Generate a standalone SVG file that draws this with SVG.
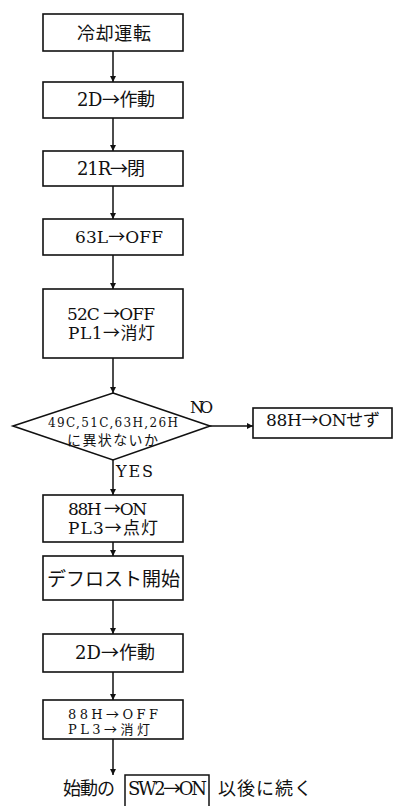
<svg xmlns="http://www.w3.org/2000/svg" width="406" height="806" viewBox="0 0 406 806">
<defs>
<style>
.b{fill:#fff;stroke:#111;stroke-width:1.6}
.t{font-family:"DejaVu Serif","Noto Sans CJK JP",serif;fill:#111}
.a{font-family:"Noto Sans CJK JP",sans-serif}
.c{stroke:#111;stroke-width:1.5;fill:none;marker-end:url(#ah)}
</style>
<marker id="ah" viewBox="0 0 10 10" refX="10" refY="5" markerWidth="6" markerHeight="6" orient="auto" markerUnits="userSpaceOnUse">
<path d="M0,0 L10,5 L0,10 z" fill="#111"/>
</marker>
</defs>
<rect width="406" height="806" fill="#fff"/>
<g id="connectors">
<line class="c" x1="113" y1="51" x2="113" y2="82"/>
<line class="c" x1="113" y1="118" x2="113" y2="151"/>
<line class="c" x1="113" y1="186" x2="113" y2="219"/>
<line class="c" x1="113" y1="255" x2="113" y2="289"/>
<line class="c" x1="113" y1="358" x2="113" y2="393"/>
<line class="c" x1="113" y1="460" x2="113" y2="495"/>
<line class="c" x1="113" y1="542" x2="113" y2="556"/>
<line class="c" x1="113" y1="600" x2="113" y2="634"/>
<line class="c" x1="113" y1="672" x2="113" y2="700"/>
<line class="c" x1="113" y1="739" x2="113" y2="775"/>
<line class="c" x1="210" y1="426" x2="253" y2="426"/>
<text class="t" x="190" y="413" font-size="16" textLength="23">NO</text>
<text class="t" x="116" y="477" font-size="16" textLength="37">YES</text>
</g>
<g id="n1"><rect class="b" x="43" y="14" width="140" height="37"/><text class="t" x="77" y="40" font-size="18" textLength="74">冷却運転</text></g>
<g id="n2"><rect class="b" x="43" y="82" width="140" height="36"/><text class="t" x="77" y="106" font-size="18" textLength="78">2D<tspan class="a">→</tspan>作動</text></g>
<g id="n3"><rect class="b" x="43" y="151" width="140" height="35"/><text class="t" x="77" y="175" font-size="18" textLength="68">21R<tspan class="a">→</tspan>閉</text></g>
<g id="n4"><rect class="b" x="43" y="219" width="140" height="36"/><text class="t" x="75" y="243" font-size="17" textLength="88">63L<tspan class="a">→</tspan>OFF</text></g>
<g id="n5"><rect class="b" x="43" y="289" width="140" height="69"/><text class="t" font-size="17"><tspan x="67" y="320" textLength="88">52C <tspan class="a">→</tspan>OFF</tspan><tspan x="68" y="339" textLength="87">PL1<tspan class="a">→</tspan>消灯</tspan></text></g>
<g id="d1"><polygon class="b" points="113,393 210,426 113,460 13,426"/><text class="t" font-size="12"><tspan x="48" y="427" textLength="130">49C,51C,63H,26H</tspan><tspan x="67" y="445" font-size="14" textLength="91">に異状ないか</tspan></text></g>
<g id="n6"><rect class="b" x="253" y="408" width="139" height="30"/><text class="t" x="266" y="426" font-size="17" textLength="114">88H<tspan class="a">→</tspan>ONせず</text></g>
<g id="n7"><rect class="b" x="43" y="495" width="140" height="47"/><text class="t" font-size="17"><tspan x="68" y="515" textLength="79">88H <tspan class="a">→</tspan>ON</tspan><tspan x="68" y="534" textLength="90">PL3<tspan class="a">→</tspan>点灯</tspan></text></g>
<g id="n8"><rect class="b" x="43" y="556" width="140" height="44"/><text class="t" x="47" y="586" font-size="19" textLength="133">デフロスト開始</text></g>
<g id="n9"><rect class="b" x="43" y="634" width="140" height="38"/><text class="t" x="75" y="659" font-size="18" textLength="80">2D<tspan class="a">→</tspan>作動</text></g>
<g id="n10"><rect class="b" x="43" y="700" width="140" height="39"/><text class="t" font-size="13"><tspan x="68" y="719" textLength="90">88H<tspan class="a">→</tspan>OFF</tspan><tspan x="68" y="734" textLength="82">PL3<tspan class="a">→</tspan>消灯</tspan></text></g>
<g id="n11"><polyline points="125,806 125,775 209,775 209,806" fill="none" stroke="#111" stroke-width="1.5"/><text class="t" x="63" y="795" font-size="18" textLength="52">始動の</text><text class="t" x="128" y="795" font-size="18" textLength="79">SW2<tspan class="a">→</tspan>ON</text><text class="t" x="218" y="795" font-size="18" textLength="94">以後に続く</text></g>
</svg>
